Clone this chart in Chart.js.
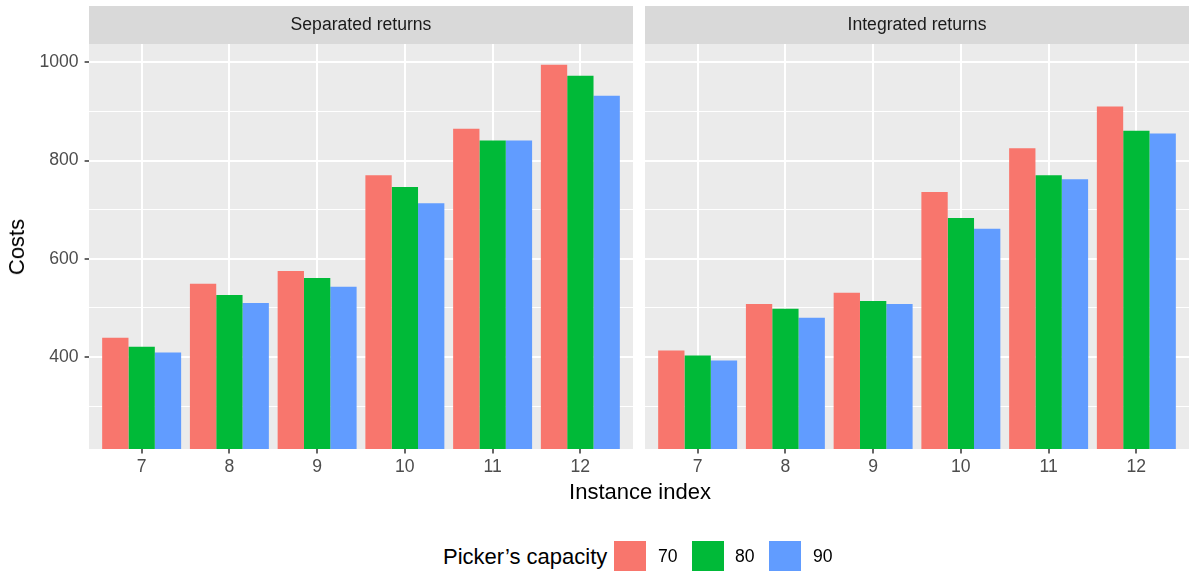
<!DOCTYPE html>
<html>
<head>
<meta charset="utf-8">
<script src="https://cdn.jsdelivr.net/npm/chart.js@4.4.0/dist/chart.umd.min.js"></script>
<style>
  body { margin: 0; background: #fff; font-family: "Liberation Sans", Arial, sans-serif; }
  #wrap { position: relative; width: 1193px; height: 571px; overflow: hidden; }
  canvas { position: absolute; top: 0; }
  .lbl { position: absolute; white-space: nowrap; line-height: 1; }
  .key { position: absolute; width: 32px; height: 32px; top: 541px; }
</style>
</head>
<body>
<div id="wrap">
  <canvas id="left" width="639" height="480" style="left:0px"></canvas>
  <canvas id="right" width="554" height="480" style="left:639px"></canvas>
  <div class="lbl" id="ytitle" style="font-size:22px;color:#000;left:17px;top:247px;transform:translate(-50%,-50%) rotate(-90deg);">Costs</div>
  <div class="lbl" style="font-size:22px;color:#000;left:640px;top:492px;transform:translate(-50%,-50%);">Instance index</div>
  <div class="lbl" style="font-size:22px;color:#000;left:443px;top:557px;transform:translateY(-50%);">Picker’s capacity</div>
  <div class="key" id="k0" style="left:614px"></div>
  <div class="lbl" id="l0" style="font-size:17.6px;color:#000;left:658px;top:557px;transform:translateY(-50%);"></div>
  <div class="key" id="k1" style="left:692px"></div>
  <div class="lbl" id="l1" style="font-size:17.6px;color:#000;left:735px;top:557px;transform:translateY(-50%);"></div>
  <div class="key" id="k2" style="left:769px"></div>
  <div class="lbl" id="l2" style="font-size:17.6px;color:#000;left:813px;top:557px;transform:translateY(-50%);"></div>
</div>
<script>
// data
const instances = [7, 8, 9, 10, 11, 12]
const capacities = ["70", "80", "90"]
const panelTitles = ["Separated returns", "Integrated returns"]

const separated70 = [439, 549, 575, 770, 865, 995]
const separated80 = [421, 526, 561, 746, 841, 973]
const separated90 = [409, 510, 543, 713, 841, 932]

const integrated70 = [413, 508, 531, 736, 825, 910]
const integrated80 = [403, 498, 514, 683, 770, 861]
const integrated90 = [393, 480, 508, 661, 762, 855]

const yTicks = [300, 400, 500, 600, 700, 800, 900, 1000]

const colors = ["#F8766D", "#00BA38", "#619CFF"]

capacities.forEach(function (c, i) {
  document.getElementById("k" + i).style.background = colors[i]
  document.getElementById("l" + i).textContent = c
})

const fontFamily = '"Liberation Sans", Arial, sans-serif'

// panel background + facet strip
const panelPlugin = {
  id: "panel",
  beforeDraw: function (chart, args, opts) {
    const ctx = chart.ctx
    const a = chart.chartArea
    ctx.save()
    ctx.fillStyle = "#EBEBEB"
    ctx.fillRect(a.left, a.top, a.right - a.left, a.bottom - a.top)
    ctx.fillStyle = "#D9D9D9"
    ctx.fillRect(a.left, 6, a.right - a.left, a.top - 6)
    ctx.fillStyle = "#1A1A1A"
    ctx.font = "17.6px " + fontFamily
    ctx.textAlign = "center"
    ctx.textBaseline = "middle"
    ctx.fillText(opts.title, (a.left + a.right) / 2, (6 + a.top) / 2)
    ctx.restore()
  },
}

function makeChart(id, title, series, showY) {
  const ctx = document.getElementById(id).getContext("2d")
  return new Chart(ctx, {
    type: "bar",
    data: {
      datasets: series.map(function (vals, i) {
        return {
          label: capacities[i],
          data: instances.map(function (x, j) {
            return { x: x, y: vals[j] }
          }),
          backgroundColor: colors[i],
          borderWidth: 0,
          categoryPercentage: 0.9,
          barPercentage: 1.0,
          clip: 0,
        }
      }),
    },
    options: {
      responsive: false,
      animation: false,
      devicePixelRatio: 1,
      layout: {
        padding: { top: 44, left: 0, right: showY ? 6 : 4, bottom: 0 },
      },
      plugins: {
        legend: { display: false },
        tooltip: { enabled: false },
        panel: { title: title },
      },
      scales: {
        x: {
          type: "linear",
          min: 6.4,
          max: 12.6,
          offset: false,
          grid: { offset: false, color: "#FFFFFF", lineWidth: 2, tickColor: "#333333", tickWidth: 1.5, tickLength: 4.4 },
          border: { display: false },
          afterBuildTicks: function (scale) {
            scale.ticks = instances.map(function (v) { return { value: v } })
          },
          afterFit: function (scale) {
            scale.height = 31
          },
          ticks: {
            autoSkip: false,
            maxRotation: 0,
            padding: 3,
            color: "#4D4D4D",
            font: { family: fontFamily, size: 17.6 },
            callback: function (v) { return String(v) },
          },
        },
        y: {
          type: "linear",
          min: 212.5,
          max: 1037.5,
          beginAtZero: false,
          grid: {
            color: "#FFFFFF",
            lineWidth: function (c) { return c.tick && c.tick.value % 200 === 0 ? 2 : 1 },
            drawTicks: showY,
            tickLength: 4.4,
            tickWidth: 1.5,
            tickColor: function (c) { return c.tick && c.tick.value % 200 === 0 ? "#333333" : "rgba(0,0,0,0)" },
          },
          border: { display: false },
          afterBuildTicks: function (scale) {
            scale.ticks = yTicks.map(function (v) { return { value: v } })
          },
          afterFit: function (scale) {
            scale.width = showY ? 89 : 6
          },
          ticks: {
            display: showY,
            autoSkip: false,
            padding: 6,
            color: "#4D4D4D",
            font: { family: fontFamily, size: 17.6 },
            callback: function (v) { return v % 200 === 0 ? String(v) : "" },
          },
        },
      },
    },
    plugins: [panelPlugin],
  })
}

makeChart("left", panelTitles[0], [separated70, separated80, separated90], true)
makeChart("right", panelTitles[1], [integrated70, integrated80, integrated90], false)
</script>
</body>
</html>
